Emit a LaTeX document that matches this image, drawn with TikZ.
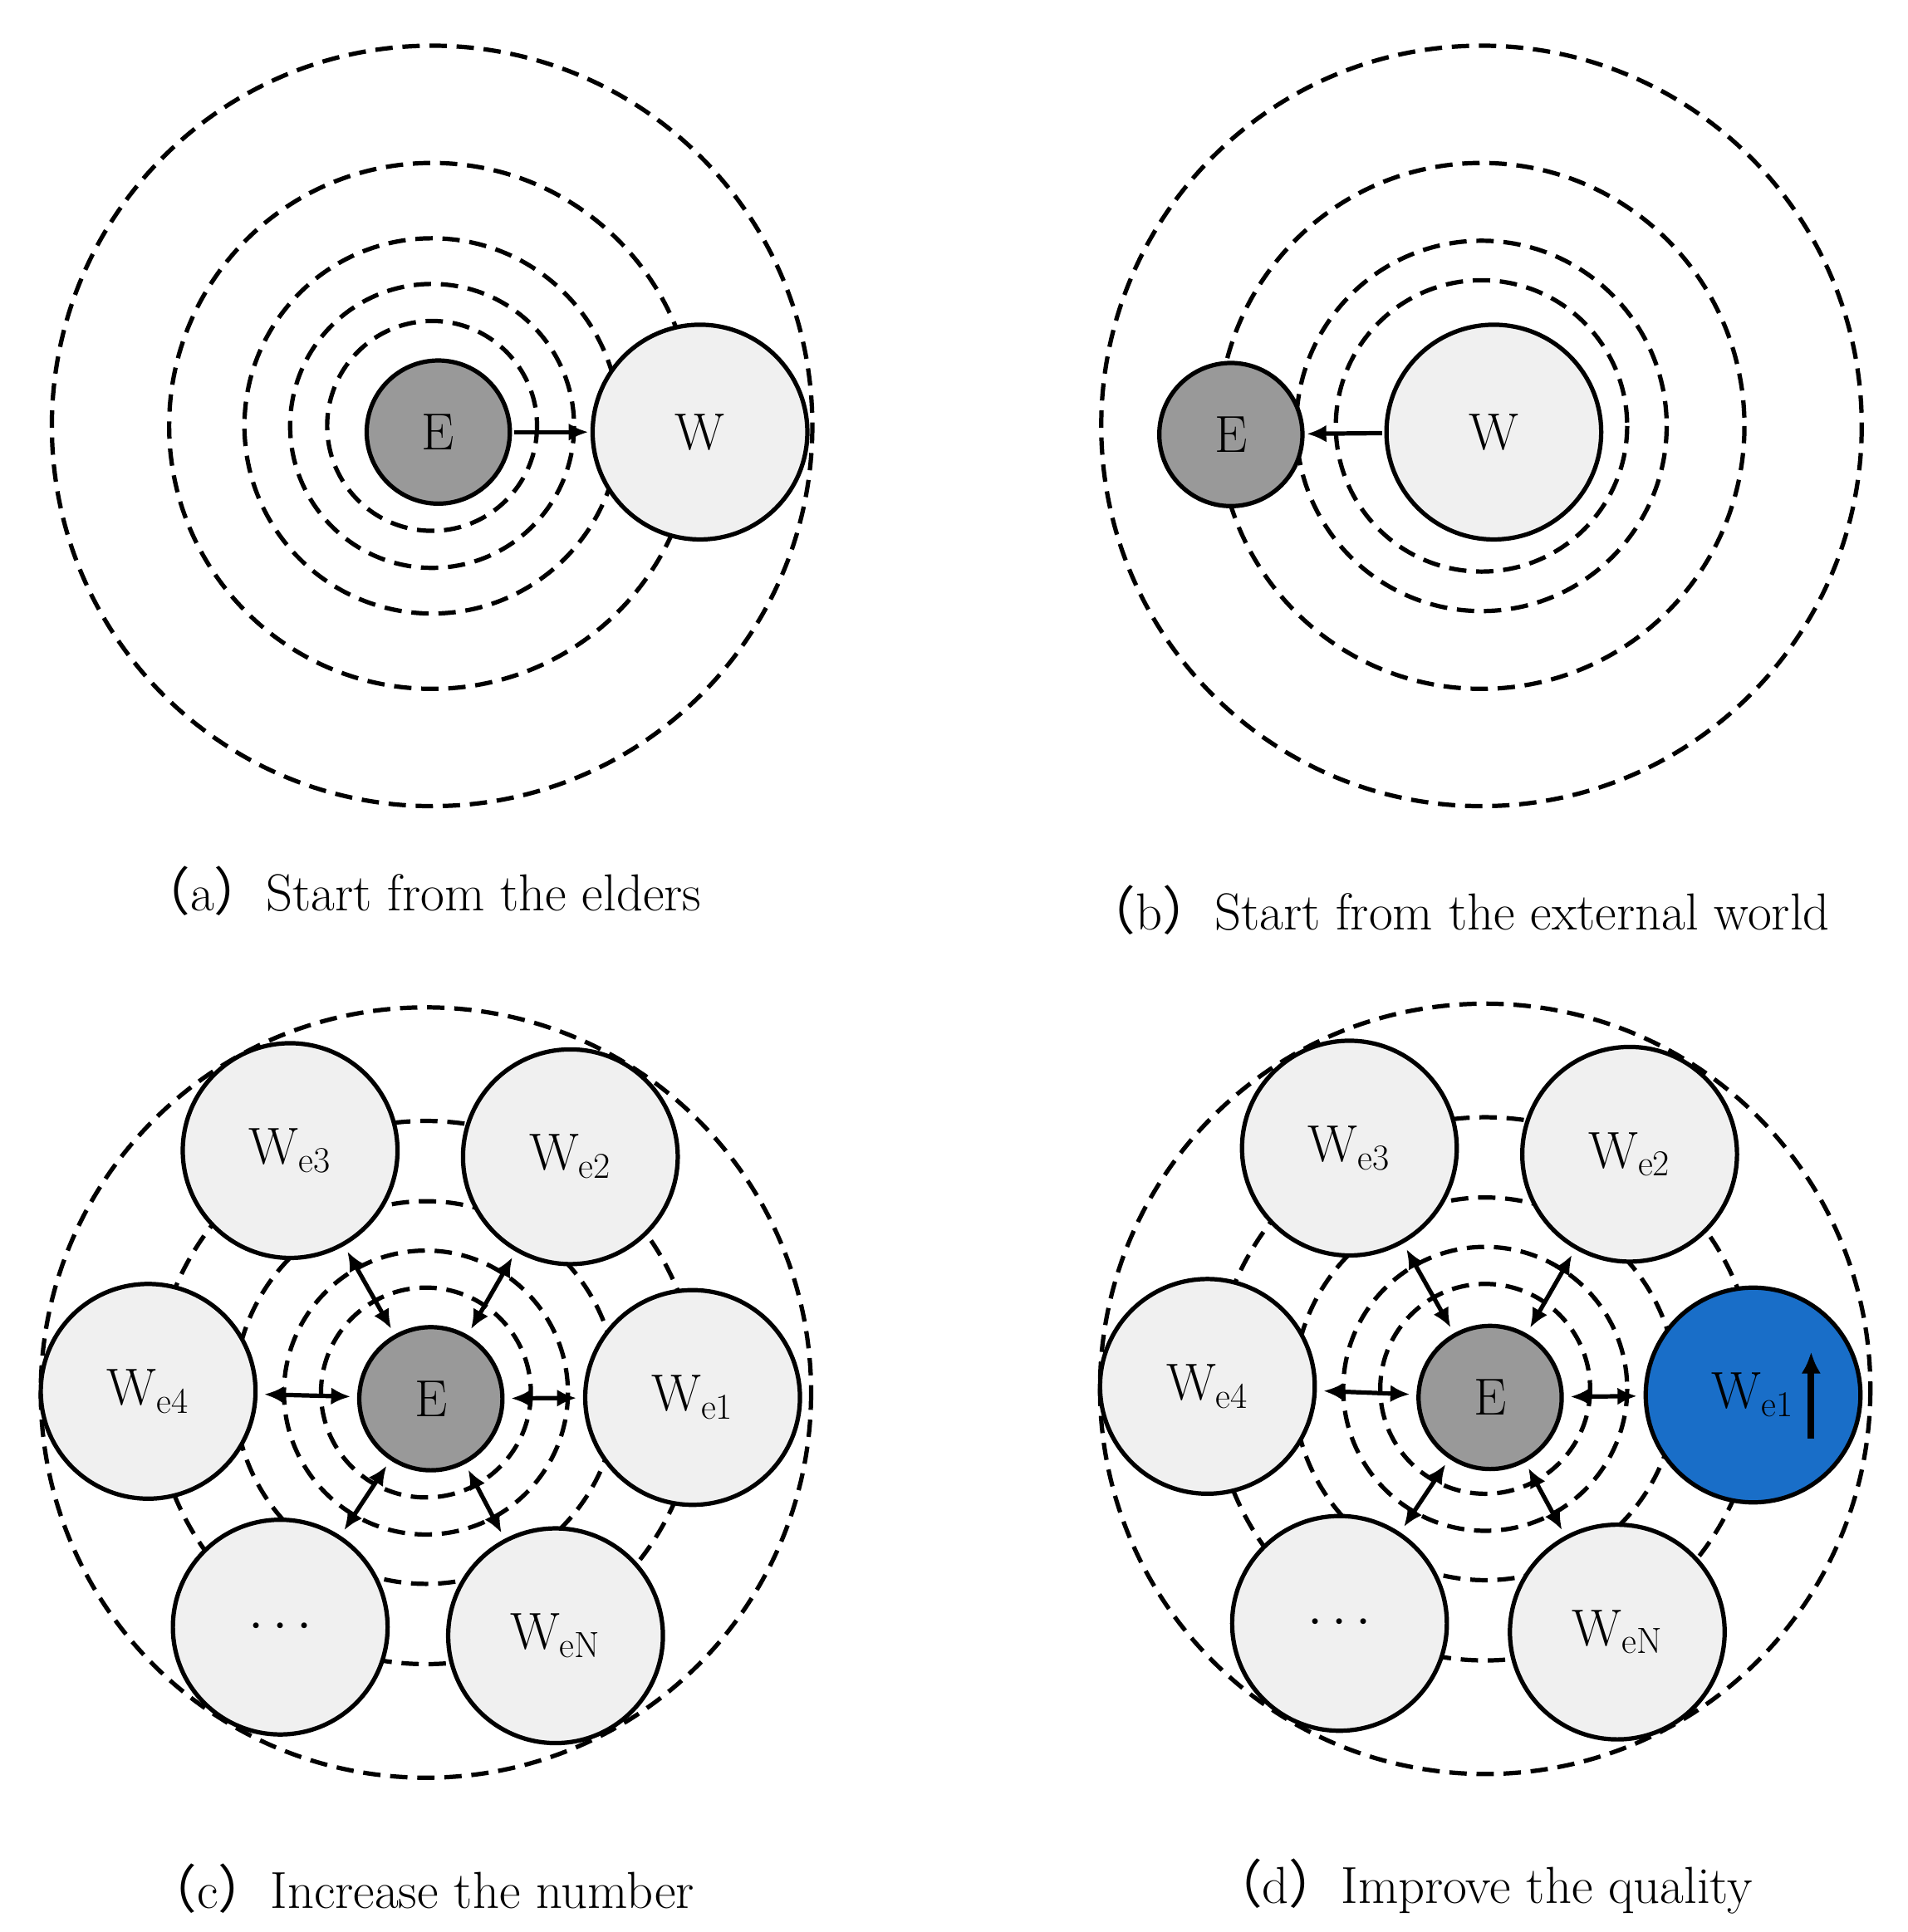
\documentclass[tikz,border=0pt]{standalone}
\usepackage{fontspec}
\usetikzlibrary{arrows.meta}
\newfontfamily\cjk{Noto Sans CJK SC}
\begin{document}
\begin{tikzpicture}[x=0.02cm,y=-0.02cm,
  ring/.style={draw,line width=2pt,dash pattern=on 8pt off 4.5pt},
  nd/.style={circle,draw,line width=2pt,minimum size=#1*0.04cm,inner sep=0pt,font=\fontsize{24}{28}\selectfont},
  sat/.style={nd=87,fill=black!6},
  ee/.style={nd=58,fill=black!40},
  ar/.style={line width=2pt,-{Latex[length=9pt,width=8pt]},shorten >=1pt,shorten <=1pt},
  dar/.style={line width=2pt,{Latex[length=9pt,width=8pt]}-{Latex[length=9pt,width=8pt]},shorten >=3pt,shorten <=3pt},
  capt/.style={font=\fontsize{24}{28}\selectfont}]
\useasboundingbox (0,0) rectangle (1545,1565);
% (a)
\foreach \r in {308,213,152,115,85} \draw[ring] (350,345) circle (\r);
\node[ee] (Ea) at (355,350) {E};
\node[sat] (Wa) at (567,350) {W};
\draw[ar] (Ea) -- (Wa);
\node[capt] (ca) at (340,722) {{\cjk （}a{\cjk ）}Start from the elders};
% (b)
\foreach \r in {308,213,150,118} \draw[ring] (1200,345) circle (\r);
\node[ee] (Eb) at (997,352) {E};
\node[sat] (Wb) at (1210,350) {W};
\draw[ar] (Wb) -- (Eb);
\node[capt] (cb) at (1180,737) {{\cjk （}b{\cjk ）}Start from the external world};
% (c)
\foreach \r in {312,220,155,115,85} \draw[ring] (345,1128) circle (\r);
\node[ee] (Ec) at (349,1133) {E};
\node[sat] (c3) at (235,932) {W$_{\mathrm{e3}}$};
\node[sat] (c2) at (462,937) {W$_{\mathrm{e2}}$};
\node[sat] (c4) at (120,1127) {W$_{\mathrm{e4}}$};
\node[sat] (c1) at (561,1132) {W$_{\mathrm{e1}}$};
\node[sat] (cd) at (227,1318) {$\cdots$};
\node[sat] (cN) at (450,1325) {W$_{\mathrm{eN}}$};
\foreach \n in {c1,c2,c3,c4,cd,cN} \draw[dar] (Ec) -- (\n);
\node[capt] (cc) at (340,1530) {{\cjk （}c{\cjk ）}Increase the number};
% (d)
\foreach \r in {312,220,155,115,85} \draw[ring] (1203,1125) circle (\r);
\node[ee] (Ed) at (1207,1132) {E};
\node[sat] (d3) at (1093,930) {W$_{\mathrm{e3}}$};
\node[sat] (d2) at (1320,935) {W$_{\mathrm{e2}}$};
\node[sat] (d4) at (978,1123) {W$_{\mathrm{e4}}$};
\node[nd=87,fill={rgb,255:red,25;green,110;blue,200}] (d1) at (1420,1130) {W$_{\mathrm{e1}}$\hspace{1.2cm}};
\node[sat] (dd) at (1085,1315) {$\cdots$};
\node[sat] (dN) at (1310,1322) {W$_{\mathrm{eN}}$};
\foreach \n in {d1,d2,d3,d4,dd,dN} \draw[dar] (Ed) -- (\n);
\coordinate (ub) at (1467,1165); \coordinate (ut) at (1467,1095);
\draw[line width=3pt,-{Latex[length=10pt,width=9pt]}] (ub) -- (ut);
\node[capt] (cdd) at (1200,1528) {{\cjk （}d{\cjk ）}Improve the quality};
\end{tikzpicture}
\end{document}
